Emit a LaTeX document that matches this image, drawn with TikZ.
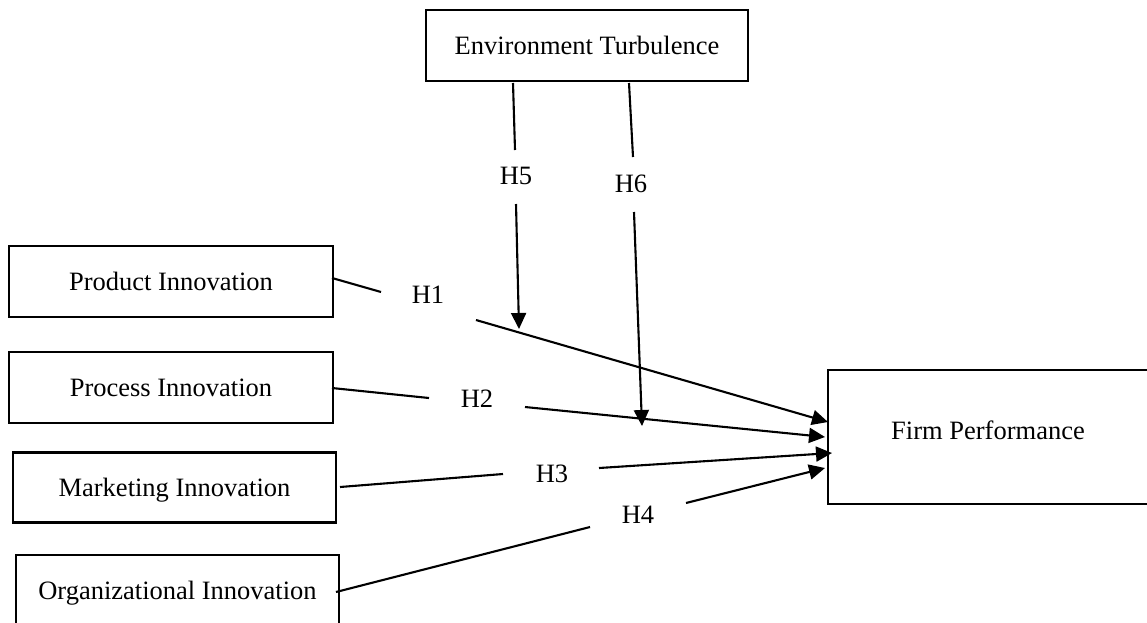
\documentclass[tikz,border=0pt]{standalone}
\usepackage{fontspec}
\setmainfont{Liberation Serif}
\usetikzlibrary{arrows.meta}
\begin{document}
\begin{tikzpicture}[x=1pt,y=-1pt,
  construct/.style={draw=black,line width=2.4pt,rectangle,inner sep=0pt,
    font=\fontsize{26.5}{30}\selectfont,text height=17.5pt,text depth=0pt},
  hyp/.style={inner sep=0pt,font=\fontsize{26.5}{30}\selectfont,
    text height=17.5pt,text depth=0pt},
  link/.style={line width=2.1pt},
  path/.style={line width=2.1pt,-{Triangle[length=16pt,width=15pt]}}]
\clip (0,0) rectangle (1147,622);
\fill[white] (0,0) rectangle (1147,622);

% constructs
\node[construct,minimum width=322pt,minimum height=71pt] (env) at (587,45.5) {Environment Turbulence};
\node[construct,minimum width=324pt,minimum height=71pt] (prod) at (171,281.5) {Product Innovation};
\node[construct,minimum width=324pt,minimum height=71pt] (proc) at (171,387.5) {Process Innovation};
\node[construct,minimum width=323pt,minimum height=70pt] (mkt) at (174.5,487.5) {Marketing Innovation};
\node[construct,minimum width=323pt,minimum height=71pt] (org) at (177.5,590.5) {Organizational Innovation};
\node[construct,minimum width=320pt,minimum height=134pt,text depth=13pt] (firm) at (988,437) {Firm Performance};

% hypothesis labels
\node[hyp] (h1) at (428,295) {H1};
\node[hyp] (h2) at (477,399) {H2};
\node[hyp] (h3) at (552,474) {H3};
\node[hyp] (h4) at (638,515) {H4};
\node[hyp] (h5) at (516,176) {H5};
\node[hyp] (h6) at (631,183.5) {H6};

% connector end points around the labels
\coordinate (a1) at (332,278);  \coordinate (b1) at (381,292);
\coordinate (c1) at (476,320);  \coordinate (t1) at (828,422);
\coordinate (a2) at (332,388);  \coordinate (b2) at (429,398);
\coordinate (c2) at (525,407);  \coordinate (t2) at (825,437);
\coordinate (a3) at (340,487);  \coordinate (b3) at (503,474);
\coordinate (c3) at (599,468);  \coordinate (t3) at (832,453);
\coordinate (a4) at (336,592);  \coordinate (b4) at (590,527);
\coordinate (c4) at (686,503);  \coordinate (t4) at (825,468);
\coordinate (a5) at (513,83);   \coordinate (b5) at (515,150);
\coordinate (c5) at (516,204);  \coordinate (t5) at (519,329);
\coordinate (a6) at (629,83);   \coordinate (b6) at (633,157);
\coordinate (c6) at (634,212);  \coordinate (t6) at (642,426);

% direct effects H1--H4
\draw[link] (a1) -- (b1);  \draw[path] (c1) -- (t1);
\draw[link] (a2) -- (b2);  \draw[path] (c2) -- (t2);
\draw[link] (a3) -- (b3);  \draw[path] (c3) -- (t3);
\draw[link] (a4) -- (b4);  \draw[path] (c4) -- (t4);

% moderating effects H5, H6
\draw[link] (a5) -- (b5);  \draw[path] (c5) -- (t5);
\draw[link] (a6) -- (b6);  \draw[path] (c6) -- (t6);
\end{tikzpicture}
\end{document}
